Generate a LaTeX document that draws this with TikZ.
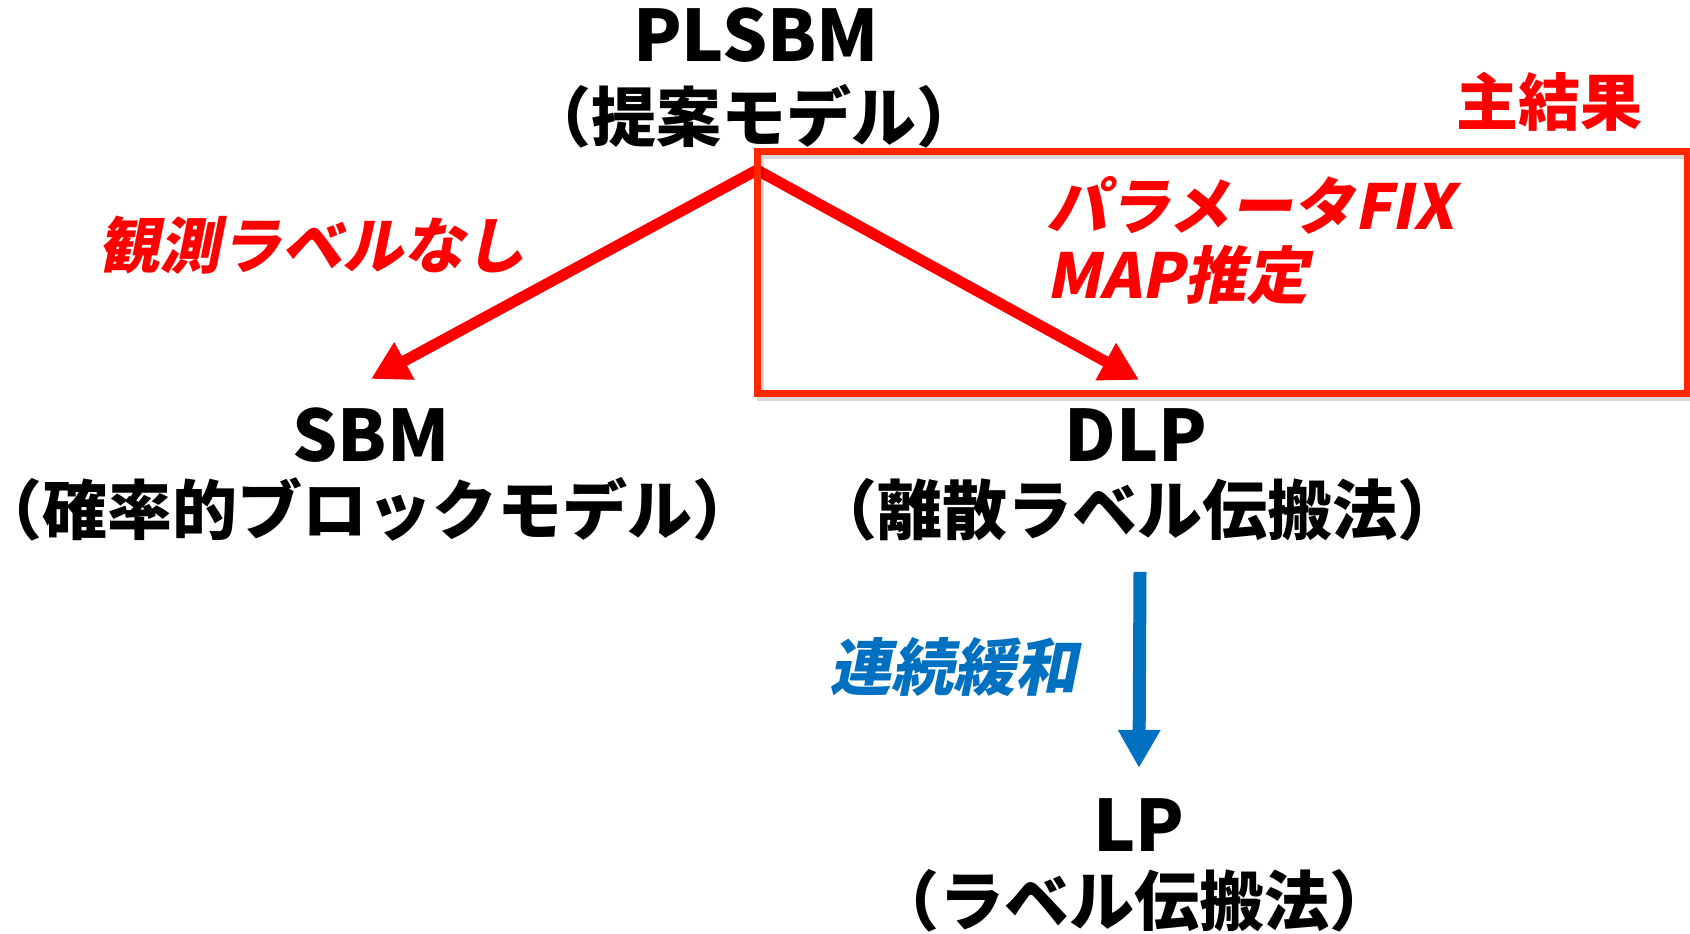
\documentclass[tikz,border=0pt]{standalone}
\usepackage{fontspec}
\setmainfont{Noto Sans CJK JP}
\newfontfamily\jpit{Noto Sans CJK JP}[FakeSlant=0.2]
\usetikzlibrary{arrows.meta}
\definecolor{redA}{RGB}{255,0,0}
\definecolor{redB}{RGB}{255,40,0}
\definecolor{blueA}{RGB}{0,112,192}
\begin{document}
\begin{tikzpicture}[x=1pt,y=-1pt,
  lat/.style={font=\fontsize{71}{71}\selectfont\bfseries, inner sep=0pt, anchor=base},
  jap/.style={font=\fontsize{65}{65}\selectfont\bfseries, inner sep=0pt, anchor=base},
  redlab/.style={font=\fontsize{62}{62}\selectfont\jpit\bfseries, text=redA, inner sep=0pt, anchor=base west},
  bluelab/.style={font=\fontsize{62}{62}\selectfont\jpit\bfseries, text=blueA, inner sep=0pt, anchor=base west},
  redarrow/.style={line width=11pt, redA, -{Triangle[length=38pt,width=40pt]}},
  bluearrow/.style={line width=13pt, blueA, -{Triangle[length=38pt,width=40pt]}},
]
\useasboundingbox (0,0) rectangle (1690,934);
\node[lat] (plsbm) at (756,62) {PLSBM};
\node[jap] (plsbmj) at (754,141) {（提案モデル）};
\node[lat] (sbm) at (371,461) {SBM};
\node[jap] (sbmj) at (368,534) {\kern-0.45em（確率的ブロックモデル）\kern-0.45em};
\node[lat] (dlp) at (1136,461) {DLP};
\node[jap] (dlpj) at (1137,534) {（離散ラベル伝搬法）};
\node[lat] (lp) at (1139,851) {LP};
\node[jap] (lpj) at (1134,925) {（ラベル伝搬法）};
\node[font=\fontsize{62}{62}\selectfont\bfseries, text=redA, inner sep=0pt, anchor=base] (main) at (1549,125) {主結果};
\node[redlab, font=\fontsize{61}{61}\selectfont\jpit\bfseries] (l1) at (98,268) {観測ラベルなし};
\node[redlab] (l2) at (1046,229) {パラメータFIX};
\node[redlab] (l3) at (1046,298) {MAP推定};
\node[bluelab] (l4) at (829,690) {連続緩和};
\coordinate (apex) at (757,170);
\draw[redarrow] (apex) -- ([yshift=28pt]sbm.north);
\draw[redarrow] (apex) -- ([yshift=28pt,xshift=3pt]dlp.north);
\draw[bluearrow] ([yshift=-31pt,xshift=3pt]dlpj.south) -- ([yshift=30pt]lp.north);
\draw[black, opacity=0.15, line width=7pt] (760,155) rectangle (1690,397);
\draw[redB, line width=7pt] (757,151) rectangle (1687,393);
\end{tikzpicture}
\end{document}
